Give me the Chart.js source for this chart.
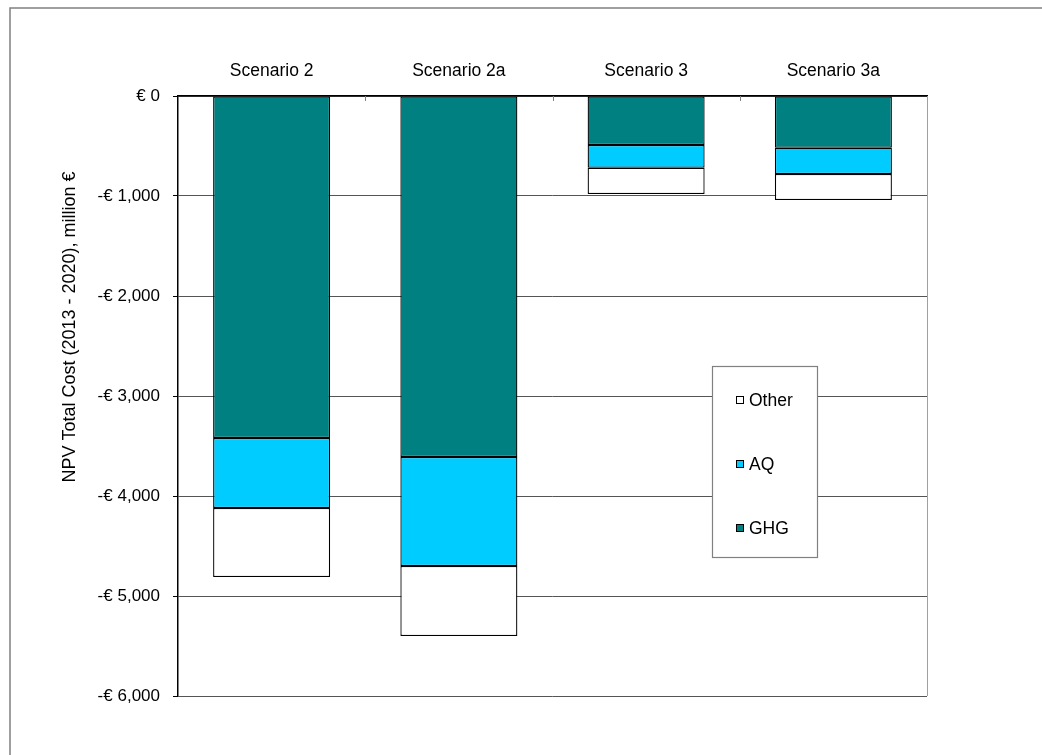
<!DOCTYPE html>
<html>
<head>
<meta charset="utf-8">
<script src="https://cdn.jsdelivr.net/npm/chart.js@4.4.0/dist/chart.umd.min.js"></script>
<style>
  html, body { margin: 0; padding: 0; background: #fff; }
  #wrap { position: relative; width: 1042px; height: 755px; }
</style>
</head>
<body>
<div id="wrap"><canvas id="npvChart" width="1042" height="755"></canvas></div>
<script>
const scenarios = ["Scenario 2", "Scenario 2a", "Scenario 3", "Scenario 3a"];
const ghgValues = [-3420, -3610, -490, -517];
const aqValues = [-700, -1090, -227, -263];
const otherValues = [-690, -700, -263, -260];
const yTicks = [0, -1000, -2000, -3000, -4000, -5000, -6000];
const yTitle = "NPV Total Cost (2013 - 2020), million €";

const FONT = "'Liberation Sans', Arial, sans-serif";

const euro = v => (v < 0 ? "-€ " : "€ ") + Math.abs(v).toLocaleString("en-US");

// frame, right plot edge, category ticks and y title
const decorations = {
  id: "decorations",
  beforeDraw(chart) {
    const ctx = chart.ctx;
    ctx.save();
    ctx.strokeStyle = "#808080";
    ctx.lineWidth = 1.5;
    ctx.beginPath();
    ctx.moveTo(10, 755);
    ctx.lineTo(10, 8);
    ctx.lineTo(1042, 8);
    ctx.stroke();
    ctx.restore();
  },
  afterDatasetsDraw(chart) {
    const { ctx, chartArea: a, scales } = chart;
    ctx.save();
    ctx.strokeStyle = "#a0a0a0";
    ctx.lineWidth = 1;
    ctx.beginPath();
    ctx.moveTo(a.right + 0.5, a.top);
    ctx.lineTo(a.right + 0.5, a.bottom);
    ctx.stroke();

    ctx.strokeStyle = "#808080";
    const x = scales.x;
    for (let i = 0; i < scenarios.length - 1; i++) {
      const px = Math.round((x.getPixelForTick(i) + x.getPixelForTick(i + 1)) / 2) + 0.5;
      ctx.beginPath();
      ctx.moveTo(px, a.top);
      ctx.lineTo(px, a.top + 5);
      ctx.stroke();
    }

    ctx.fillStyle = "#000";
    ctx.font = "18px " + FONT;
    ctx.textAlign = "center";
    ctx.textBaseline = "middle";
    ctx.translate(70, 327);
    ctx.rotate(-Math.PI / 2);
    ctx.fillText(yTitle, 0, 0);
    ctx.restore();
  }
};

// boxed legend inside the plot area, series listed bottom-up
const boxLegend = {
  id: "boxLegend",
  afterDraw(chart) {
    const ctx = chart.ctx;
    const box = { x: 712, y: 366, w: 105, h: 191 };
    ctx.save();
    ctx.fillStyle = "#fff";
    ctx.fillRect(box.x, box.y, box.w, box.h);
    ctx.strokeStyle = "#808080";
    ctx.lineWidth = 1.2;
    ctx.strokeRect(box.x + 0.5, box.y + 0.5, box.w, box.h);
    const items = chart.data.datasets.slice().reverse();
    ctx.font = "17.5px " + FONT;
    ctx.textBaseline = "middle";
    ctx.textAlign = "left";
    items.forEach((ds, i) => {
      const cy = box.y + 34 + i * 64;
      ctx.fillStyle = ds.backgroundColor;
      ctx.fillRect(736, cy - 4, 8, 8);
      ctx.strokeStyle = "#000";
      ctx.lineWidth = 1;
      ctx.strokeRect(736.5, cy - 3.5, 7, 7);
      ctx.fillStyle = "#000";
      ctx.fillText(ds.label, 749, cy + 1);
    });
    ctx.restore();
  }
};

new Chart(document.getElementById("npvChart").getContext("2d"), {
  type: "bar",
  data: {
    labels: scenarios,
    datasets: [
      { label: "GHG", data: ghgValues, backgroundColor: "#008080" },
      { label: "AQ", data: aqValues, backgroundColor: "#00CCFF" },
      { label: "Other", data: otherValues, backgroundColor: "#FFFFFF" }
    ].map(d => Object.assign(d, {
      borderColor: "#000",
      borderWidth: 1.3,
      borderSkipped: false,
      barPercentage: 0.625,
      categoryPercentage: 1
    }))
  },
  options: {
    responsive: false,
    animation: false,
    layout: { padding: { left: 0, top: 0, right: 115, bottom: 59 } },
    plugins: {
      legend: { display: false },
      tooltip: { enabled: false }
    },
    scales: {
      x: {
        position: "top",
        stacked: true,
        grid: { display: false, drawTicks: false },
        border: { display: true, color: "#000", width: 1.5 },
        ticks: { color: "#000", font: { family: FONT, size: 17.5 }, padding: 14 },
        afterFit: s => { s.height = 96; }
      },
      y: {
        stacked: true,
        min: -6000,
        max: 0,
        afterBuildTicks: s => { s.ticks = yTicks.map(v => ({ value: v })); },
        grid: { color: "#555", lineWidth: 1, tickLength: 5, tickColor: "#000" },
        border: { display: true, color: "#000", width: 1.5 },
        ticks: {
          color: "#000",
          font: { family: FONT, size: 17 },
          padding: 13,
          callback: v => euro(v)
        },
        afterFit: s => { s.width = 178; }
      }
    }
  },
  plugins: [decorations, boxLegend]
});
</script>
</body>
</html>
